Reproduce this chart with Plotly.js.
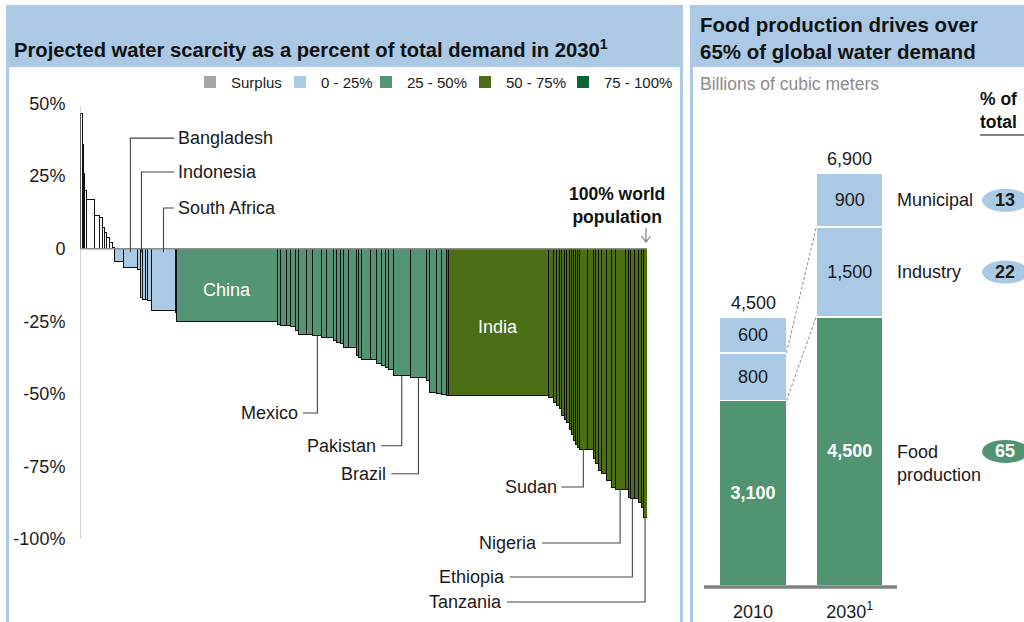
<!DOCTYPE html>
<html>
<head>
<meta charset="utf-8">
<script src="https://cdn.plot.ly/plotly-3.0.1.min.js"></script>
<style>
  html, body { margin: 0; padding: 0; background: #ffffff; overflow: hidden; }
  #chart { width: 1024px; height: 622px; }
</style>
</head>
<body>
<div id="chart"></div>
<script>
// ---- Water gap by country, 2030: share of world population (%) and gap (% of demand) ----
const bands = ['Surplus', '0 - 25%', '25 - 50%', '50 - 75%', '75 - 100%'];

const popShare = [
  0.44, 0.18, 0.18, 0.39, 1.41, 0.81, 0.48, 0.48, 0.35, 0.46, 0.48, 0.35,
  1.64, 2.47, 0.48, 0.48, 0.46, 0.35, 0.78, 4.11, 0.30,
  17.69, 0.53, 1.06, 0.71, 0.88, 0.58, 1.48, 1.06, 1.59, 0.88, 1.16, 0.60, 0.58, 0.58, 0.88,
  1.36, 0.41, 0.60, 1.46, 1.18, 0.88, 0.58, 0.58, 0.88, 2.95, 2.95, 0.46, 1.31, 0.88, 0.88,
  0.28, 17.64, 0.88, 0.48, 0.58, 0.42, 0.41, 0.48, 0.46, 0.42, 0.28, 0.30, 0.41, 0.35,
  1.36, 1.11, 0.30, 0.58, 0.60, 0.88, 0.88, 0.58, 1.76, 0.58, 0.39, 0.62, 0.76, 0.60, 0.23, 0.68
];

const waterGap = [
  46.5, 36, 26, 20, 17, 11.4, 10.7, 7.3, 5.6, 3.9, 2.2, 0.5,
  -4.5, -6.4, -7.0, -16.8, -17.4, -17.6, -17.9, -21.4, -22.0,
  -25.0, -26.0, -26.5, -26.5, -26.8, -28.2, -29.7, -29.7, -29.9, -30.5, -30.7, -31.7, -32.2, -32.8, -34.0,
  -34.2, -36.9, -37.4, -38.0, -38.2, -39.4, -40.3, -40.9, -41.5, -43.8, -44.4, -45.5, -49.5, -49.8, -50.2,
  -50.4, -50.6, -51.2, -52.9, -54.0, -55.2, -57.5, -58.7, -59.9, -62.2, -63.9, -66.2, -67.6, -68.5,
  -69.0, -69.0, -72.4, -74.1, -76.4, -77.6, -79.9, -82.2, -82.8, -83.0, -85.6, -86.2, -86.2, -87.4, -89.1, -92.6
];

// index into bands for each bar
const bandOf = [
  0, 0, 0, 0, 0, 0, 0, 0, 0, 0, 0, 0,
  1, 1, 1, 1, 1, 1, 1, 1, 1,
  2, 2, 2, 2, 2, 2, 2, 2, 2, 2, 2, 2, 2, 2, 2,
  2, 2, 2, 2, 2, 2, 2, 2, 2, 2, 2, 2, 2, 2, 2,
  3, 3, 3, 3, 3, 3, 3, 3, 3, 3, 3, 3, 3, 3,
  3, 3, 3, 3, 3, 3, 3, 3, 3, 3, 3, 3, 3, 3, 3, 3
];

const countryName = {
  13: 'Bangladesh', 15: 'Indonesia', 19: 'South Africa', 21: 'China',
  29: 'Mexico', 45: 'Pakistan', 46: 'Brazil', 52: 'India',
  65: 'Sudan', 73: 'Nigeria', 76: 'Ethiopia', 80: 'Tanzania'
};

// ---- Global water demand, billions of cubic meters ----
const years = ['2010', '2030<sup>1</sup>'];
const foodProduction = [3100, 4500];
const industryUse = [800, 1500];
const municipalUse = [600, 900];

// ---- styling ----
const FONT = 'Liberation Sans, Arial, Helvetica, sans-serif';
const PANEL_BLUE = '#abc9e4';
const barFill = ['#ffffff', '#aac9e5', '#529474', '#4b6e17', '#0b6434'];
const swatchFill = ['#a6a6a6', '#aac9e5', '#529474', '#4b6e17', '#0b6434'];
const W = 1024, H = 622;
const px = v => v / W;
const py = v => 1 - v / H;
const TXT = 18;

// bar centres along the cumulative population axis
const centres = [];
let run = 0;
popShare.forEach(w => { centres.push(run + w / 2); run += w; });
const idxOf = name => Number(Object.keys(countryName).find(k => countryName[k] === name));

const fmt = v => v.toLocaleString('en-US');

// left y axis: 1 % of demand = 2.903 px, zero at 248.7 px
const PX_PER_PCT = 2.903;
const Y_TOP = 248.7 / PX_PER_PCT;
const Y_BOT = -(H - 248.7) / PX_PER_PCT;

const traces = [
  {
    type: 'bar', xaxis: 'x', yaxis: 'y',
    x: centres, y: waterGap, width: popShare,
    hovertext: waterGap.map((_, i) => countryName[i] || ''),
    marker: { color: bandOf.map(b => barFill[b]), line: { color: '#111111', width: 1 } },
    hovertemplate: '%{hovertext} %{y}%<extra></extra>',
    showlegend: false
  }
];

const totals = foodProduction.map((f, i) => f + industryUse[i] + municipalUse[i]);
const segW = 0.693;
[
  { name: 'Food production', vals: foodProduction, color: '#519472', txt: '#ffffff', bold: true },
  { name: 'Industry', vals: industryUse, color: '#aac9e5', txt: '#1a1a1a', bold: false },
  { name: 'Municipal', vals: municipalUse, color: '#aac9e5', txt: '#1a1a1a', bold: false }
].forEach(s => {
  traces.push({
    type: 'bar', xaxis: 'x2', yaxis: 'y2', name: s.name,
    x: [0, 1], y: s.vals, width: [segW, segW],
    text: s.vals.map(fmt),
    texttemplate: s.bold ? '<b>%{text}</b>' : '%{text}',
    textposition: 'inside', insidetextanchor: 'middle', textangle: 0,
    constraintext: 'none',
    textfont: { family: FONT, size: TXT, color: s.txt },
    marker: { color: s.color, line: { color: '#ffffff', width: 1.5 } },
    hoverinfo: 'skip', showlegend: false
  });
});

const shapes = [];
const annotations = [];

// panel frames and title bands
shapes.push(
  { type: 'rect', xref: 'paper', yref: 'paper', x0: px(6), x1: px(683), y0: py(5), y1: py(67),
    fillcolor: PANEL_BLUE, line: { width: 0 }, layer: 'below' },
  { type: 'rect', xref: 'paper', yref: 'paper', x0: px(7.5), x1: px(681.5), y0: py(6.5), y1: py(720),
    fillcolor: 'rgba(0,0,0,0)', line: { color: PANEL_BLUE, width: 3 }, layer: 'below' },
  { type: 'rect', xref: 'paper', yref: 'paper', x0: px(690), x1: px(1100), y0: py(5), y1: py(67),
    fillcolor: PANEL_BLUE, line: { width: 0 }, layer: 'below' },
  { type: 'rect', xref: 'paper', yref: 'paper', x0: px(691.5), x1: px(1100), y0: py(6.5), y1: py(720),
    fillcolor: 'rgba(0,0,0,0)', line: { color: PANEL_BLUE, width: 3 }, layer: 'below' }
);

annotations.push(
  { xref: 'paper', yref: 'paper', x: px(12), y: py(48), xanchor: 'left', yanchor: 'middle', showarrow: false,
    text: '<b>Projected water scarcity as a percent of total demand in 2030<sup>1</sup></b>',
    font: { family: FONT, size: 20.2, color: '#111111' } },
  { xref: 'paper', yref: 'paper', x: px(698), y: py(37.5), xanchor: 'left', yanchor: 'middle', showarrow: false,
    align: 'left', text: '<b>Food production drives over<br>65% of global water demand</b>',
    font: { family: FONT, size: 20.5, color: '#111111' } },
  { xref: 'paper', yref: 'paper', x: px(698), y: py(84), xanchor: 'left', yanchor: 'middle', showarrow: false,
    text: 'Billions of cubic meters', font: { family: FONT, size: 17.5, color: '#8c8c8c' } }
);

// legend swatches
const legendX = [204, 294, 380, 479, 577];
bands.forEach((b, i) => {
  shapes.push({ type: 'rect', xref: 'paper', yref: 'paper',
    x0: px(legendX[i]), x1: px(legendX[i] + 12), y0: py(88), y1: py(76),
    fillcolor: swatchFill[i], line: { width: 0 } });
  annotations.push({ xref: 'paper', yref: 'paper', x: px(legendX[i] + 25), y: py(82),
    xanchor: 'left', yanchor: 'middle', showarrow: false, text: b,
    font: { family: FONT, size: 15, color: '#1a1a1a' } });
});

// zero line and y axis line of the scarcity chart
shapes.push(
  { type: 'line', xref: 'x', yref: 'y', x0: 0, x1: 100, y0: 0, y1: 0,
    line: { color: '#8c8c8c', width: 1.5 }, layer: 'above' },
  { type: 'line', xref: 'x', yref: 'y', x0: 0, x1: 0, y0: -100, y1: 49,
    line: { color: '#a6a6a6', width: 1 }, layer: 'above' }
);

// country call-outs above the zero line
const LEAD = '#444444';
[
  { name: 'Bangladesh', y: 38.1 },
  { name: 'Indonesia', y: 26.4 },
  { name: 'South Africa', y: 14.0 }
].forEach(c => {
  const cx = centres[idxOf(c.name)];
  shapes.push({ type: 'path', xref: 'x', yref: 'y',
    path: `M ${cx} -1.2 L ${cx} ${c.y} L 16.6 ${c.y}`,
    line: { color: LEAD, width: 1.1 }, layer: 'above' });
  annotations.push({ xref: 'x', yref: 'y', x: 16.9, y: c.y, xanchor: 'left', yanchor: 'middle',
    showarrow: false, text: c.name, font: { family: FONT, size: TXT, color: '#1a1a1a' } });
});

// country call-outs below the bars
[
  { name: 'Mexico', y: -56.6, tx: 38.4 },
  { name: 'Pakistan', y: -67.9, tx: 52.2 },
  { name: 'Brazil', y: -77.5, tx: 54.0 },
  { name: 'Sudan', y: -82.1, tx: 84.0 },
  { name: 'Nigeria', y: -101.4, tx: 80.6 },
  { name: 'Ethiopia', y: -113.1, tx: 74.9 },
  { name: 'Tanzania', y: -121.7, tx: 74.4 }
].forEach(c => {
  const i = idxOf(c.name);
  const cx = centres[i];
  shapes.push({ type: 'path', xref: 'x', yref: 'y',
    path: `M ${cx} ${waterGap[i]} L ${cx} ${c.y} L ${c.tx + 0.9} ${c.y}`,
    line: { color: LEAD, width: 1.1 }, layer: 'above' });
  annotations.push({ xref: 'x', yref: 'y', x: c.tx + 0.4, y: c.y, xanchor: 'right', yanchor: 'middle',
    showarrow: false, text: c.name, font: { family: FONT, size: TXT, color: '#1a1a1a' } });
});

// names written inside the two widest bars
['China', 'India'].forEach(n => {
  const i = idxOf(n);
  annotations.push({ xref: 'x', yref: 'y', x: centres[i], y: waterGap[i] / 2, yshift: -5,
    showarrow: false, text: n, font: { family: FONT, size: TXT, color: '#ffffff' } });
});

// end of the population axis: label and small down arrow
annotations.push(
  { xref: 'x', yref: 'y', x: 94.7, y: 15.05, xanchor: 'center', yanchor: 'middle', showarrow: false,
    align: 'center', text: '<b>100% world<br>population</b>',
    font: { family: FONT, size: 17.5, color: '#111111' } }
);
const arrowX = 646;
shapes.push(
  { type: 'path', xref: 'paper', yref: 'paper',
    path: `M ${px(arrowX)} ${py(228)} L ${px(arrowX)} ${py(242)} ` +
          `M ${px(arrowX - 4.5)} ${py(236)} L ${px(arrowX)} ${py(242)} L ${px(arrowX + 4.5)} ${py(236)}`,
    line: { color: '#7f7f7f', width: 1.2 } }
);

// ---- right panel decorations ----
const half = segW / 2;
shapes.push(
  { type: 'line', xref: 'x2', yref: 'y2', x0: half, x1: 1 - half,
    y0: foodProduction[0], y1: foodProduction[1], line: { color: '#8c8c8c', width: 1, dash: '3px,2px' } },
  { type: 'line', xref: 'x2', yref: 'y2', x0: half, x1: 1 - half,
    y0: foodProduction[0] + industryUse[0], y1: foodProduction[1] + industryUse[1],
    line: { color: '#8c8c8c', width: 1, dash: '3px,2px' } },
  { type: 'line', xref: 'paper', yref: 'paper', x0: px(704), x1: px(897), y0: py(587), y1: py(587),
    line: { color: '#808080', width: 3.5 } },
  { type: 'line', xref: 'paper', yref: 'paper', x0: px(980), x1: px(1030), y0: py(135), y1: py(135),
    line: { color: '#595959', width: 1.5 } }
);

totals.forEach((t, i) => {
  annotations.push({ xref: 'x2', yref: 'y2', x: i, y: t, yanchor: 'bottom', yshift: 2, showarrow: false,
    text: fmt(t), font: { family: FONT, size: TXT, color: '#1a1a1a' } });
});

annotations.push({ xref: 'paper', yref: 'paper', x: px(978), y: py(110), xanchor: 'left', yanchor: 'middle',
  showarrow: false, align: 'left', text: '<b>% of<br>total</b>',
  font: { family: FONT, size: 17.5, color: '#111111' } });

const last = 1;
const tot = totals[last];
[
  { label: 'Municipal', mid: foodProduction[last] + industryUse[last] + municipalUse[last] / 2,
    share: municipalUse[last], fill: '#aac9e5', ink: '#1a1a1a', shift: 0 },
  { label: 'Industry', mid: foodProduction[last] + industryUse[last] / 2,
    share: industryUse[last], fill: '#aac9e5', ink: '#1a1a1a', shift: 0 },
  { label: 'Food<br>production', mid: foodProduction[last] / 2,
    share: foodProduction[last], fill: '#519472', ink: '#ffffff', shift: -12 }
].forEach(r => {
  annotations.push({ xref: 'paper', yref: 'y2', x: px(895), y: r.mid, yshift: r.shift, xanchor: 'left',
    yanchor: 'middle', align: 'left', showarrow: false, text: r.label,
    font: { family: FONT, size: TXT, color: '#1a1a1a' } });
  shapes.push({ type: 'circle', xref: 'paper', yref: 'y2', ysizemode: 'pixel', yanchor: r.mid,
    x0: px(982), x1: px(1029), y0: -11.5, y1: 11.5, fillcolor: r.fill, line: { width: 0 } });
  annotations.push({ xref: 'paper', yref: 'y2', x: px(1005), y: r.mid, xanchor: 'center', yanchor: 'middle',
    showarrow: false, text: '<b>' + Math.round(r.share / tot * 100) + '</b>',
    font: { family: FONT, size: TXT, color: r.ink } });
});

const layout = {
  width: W, height: H,
  margin: { l: 0, r: 0, t: 0, b: 0, pad: 0 },
  paper_bgcolor: '#ffffff', plot_bgcolor: 'rgba(0,0,0,0)',
  barmode: 'stack',
  font: { family: FONT, size: 16, color: '#1a1a1a' },
  showlegend: false,
  xaxis: { domain: [px(80), px(647)], range: [0, 100], visible: false, fixedrange: true },
  yaxis: {
    domain: [0, 1], range: [Y_BOT, Y_TOP], anchor: 'x',
    tickvals: [50, 25, 0, -25, -50, -75, -100],
    ticktext: ['50%', '25%', '0', '-25%', '-50%', '-75%', '-100%'],
    ticks: 'outside', ticklen: 10, tickcolor: 'rgba(0,0,0,0)',
    tickfont: { family: FONT, size: TXT, color: '#1a1a1a' },
    showgrid: false, zeroline: false, showline: false, fixedrange: true
  },
  xaxis2: {
    domain: [px(695), 1], range: [(695 - 753) / 96.7, (1024 - 753) / 96.7], anchor: 'y2',
    tickvals: [0, 1], ticktext: years,
    ticks: 'outside', ticklen: 9, tickcolor: 'rgba(0,0,0,0)',
    tickfont: { family: FONT, size: TXT, color: '#1a1a1a' },
    showgrid: false, zeroline: false, showline: false, fixedrange: true
  },
  yaxis2: {
    domain: [1 - 586 / H, 1 - 107.6 / H], range: [0, 8000], anchor: 'x2', visible: false, fixedrange: true
  },
  shapes: shapes,
  annotations: annotations
};

Plotly.newPlot('chart', traces, layout, { displayModeBar: false, staticPlot: true });
</script>
</body>
</html>
